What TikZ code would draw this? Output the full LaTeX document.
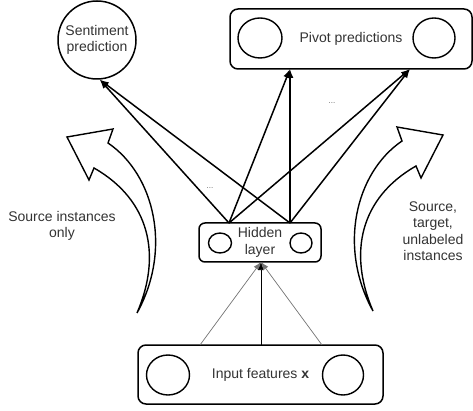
\documentclass[tikz,border=0pt]{standalone}
\usepackage{fontspec}
\setmainfont{Liberation Sans}
\usetikzlibrary{shapes.geometric,arrows.meta}
\begin{document}
\begin{tikzpicture}[x=1pt,y=-1pt,
  txt/.style={text=black!80, font=\fontsize{14}{16.5}\selectfont, align=center},
  box/.style={draw, rounded corners=8pt, line width=1.5pt, inner sep=0pt},
  neuron/.style={draw, ellipse, line width=1.4pt, inner sep=0pt},
  conn/.style={line width=1.5pt, -{Latex[length=9pt,width=7pt]}},
  feed/.style={line width=0.7pt, -{Latex[length=8pt,width=6pt]}},
  blockarrow/.style={line width=1.4pt, line join=miter},
  dots/.style={font=\fontsize{8}{8}\selectfont, text=black!60, inner sep=0pt}
]
\useasboundingbox (0,0) rectangle (473,411);

% output layer
\node[draw, circle, line width=1.5pt, minimum size=78pt, inner sep=0pt, txt] (sent) at (97,40) {Sentiment\\prediction};
\node[box, minimum width=242pt, minimum height=60pt, txt] (pivot) at (351,39) {Pivot predictions};
\node[neuron, minimum width=44pt, minimum height=40pt] (pc1) at (260,38) {};
\node[neuron, minimum width=42pt, minimum height=40pt] (pc2) at (434,38) {};

% hidden layer
\node[box, rounded corners=6pt, minimum width=122pt, minimum height=39pt, txt] (hid) at (260,242.5) {Hidden\\layer};
\node[neuron, minimum width=23pt, minimum height=20pt] (hc1) at (220,243) {};
\node[neuron, minimum width=22pt, minimum height=20pt] (hc2) at (301,243) {};

% input layer
\node[box, minimum width=245pt, minimum height=59pt, txt] (inp) at (260.5,374.5) {Input features \textbf{x}};
\node[neuron, minimum width=43pt, minimum height=40pt] (ic1) at (168,375) {};
\node[neuron, minimum width=41pt, minimum height=40pt] (ic2) at (343,375) {};

% connection points
\coordinate (h1) at (229,223);
\coordinate (h2) at (290,223);
\coordinate (hb) at (261,262);
\coordinate (p1) at (290,69);
\coordinate (p2) at (410,69);
\coordinate (i1) at (200,345);
\coordinate (i2) at (261,345);
\coordinate (i3) at (322,345);

% hidden -> outputs
\draw[conn] (h1) -- (sent.-86);
\draw[conn] (h2) -- (sent.-86);
\draw[conn] (h1) -- (p1);
\draw[conn] (h2) -- (p1);
\draw[conn] (h1) -- (p2);
\draw[conn] (h2) -- (p2);

% input -> hidden
\draw[feed, draw=black!55] (i1) -- (hb);
\draw[feed] (i2) -- (hb);
\draw[feed, draw=black!55] (i3) -- (hb);

% dots
\node[dots] (d1) at (210,188) {...};
\node[dots] (d2) at (332,103) {...};

% curved block arrows
\draw[blockarrow] (137,313) .. controls (172,250) and (155,175) .. (108,143)
   -- (113,129) -- (67,137) -- (89,180) -- (94,168)
   .. controls (150,200) and (162,255) .. (137,313);
\begin{scope}[shift={(510,-2)}, xscale=-1]
\draw[blockarrow] (137,313) .. controls (172,250) and (155,175) .. (108,143)
   -- (113,129) -- (67,137) -- (89,180) -- (94,168)
   .. controls (150,200) and (162,255) .. (137,313);
\end{scope}

% side labels
\node[txt] (lsrc) at (62,226) {Source instances\\only};
\node[txt] (rsrc) at (433,231) {Source,\\target,\\unlabeled\\instances};
\end{tikzpicture}
\end{document}
